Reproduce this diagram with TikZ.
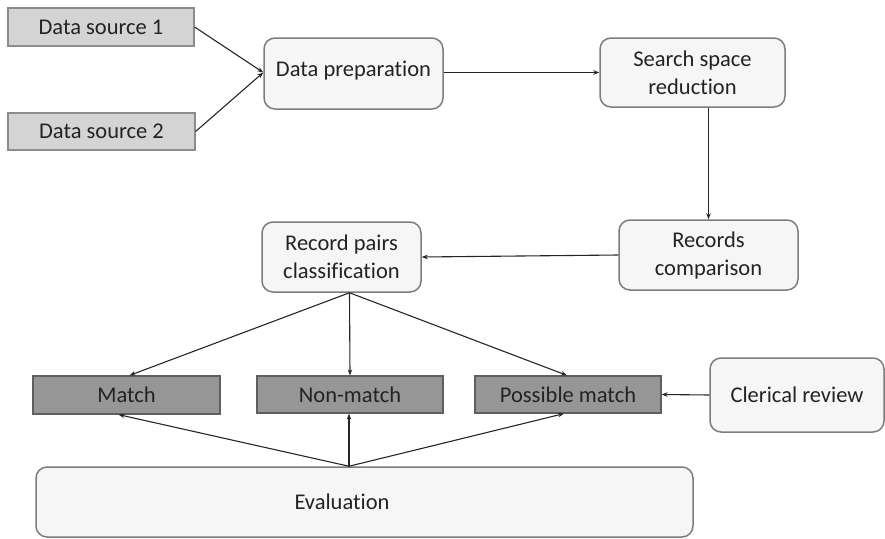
\documentclass[tikz,border=0pt]{standalone}
\usepackage{fontspec}
\setmainfont{Carlito}[Ligatures=NoCommon]
\usetikzlibrary{arrows.meta,calc}
\definecolor{srcfill}{RGB}{212,212,212}
\definecolor{srcdraw}{RGB}{140,140,140}
\definecolor{resfill}{RGB}{150,150,150}
\definecolor{resdraw}{RGB}{95,95,95}
\definecolor{rndfill}{RGB}{246,246,246}
\definecolor{rnddraw}{RGB}{125,125,125}
\definecolor{txt}{RGB}{35,35,35}
\tikzset{
  base/.style={inner sep=0pt, align=center, text=txt, font=\fontsize{22.5}{28}\selectfont},
  srcbox/.style={base, draw=srcdraw, fill=srcfill, line width=1.2pt},
  resbox/.style={base, draw=resdraw, fill=resfill, line width=1.2pt},
  rndbox/.style={base, draw=rnddraw, fill=rndfill, line width=1.5pt, rounded corners=11pt},
  conn/.style={draw=black!85, line width=1.1pt, -{Stealth[length=6pt,width=4.5pt]}},
}
\begin{document}
\begin{tikzpicture}[x=1pt,y=-1pt]
\useasboundingbox (0,0) rectangle (885,538);
% sources
\node[srcbox, minimum width=186pt, minimum height=38pt] (ds1) at (101,27) {Data source 1};
\node[srcbox, minimum width=187pt, minimum height=37pt] (ds2) at (101.5,131.5) {Data source 2};
% process boxes
\node[rndbox, minimum width=179pt, minimum height=71pt] (dp) at (353.5,73.5) {};
\node[base] (dpt) at (353.5,70.5) {Data preparation};
\node[rndbox, minimum width=185pt, minimum height=69pt] (ssr) at (692.5,72.5) {Search space\\reduction};
\node[rndbox, minimum width=179pt, minimum height=70pt] (rc) at (708.5,255) {Records\\comparison};
\node[rndbox, minimum width=159pt, minimum height=70pt] (rpc) at (341.5,257) {Record pairs\\classification};
% results
\node[resbox, minimum width=187pt, minimum height=38pt] (m) at (126.5,395) {Match};
\node[resbox, minimum width=186pt, minimum height=37pt] (nm) at (350,394.5) {Non-match};
\node[resbox, minimum width=186pt, minimum height=37pt] (pm) at (568,394.5) {Possible match};
\node[rndbox, minimum width=174pt, minimum height=74pt] (cr) at (797,395) {Clerical review};
% evaluation
\node[rndbox, minimum width=657pt, minimum height=70pt] (ev) at (364.5,502) {};
\node[base] (evt) at (342,502) {Evaluation};
% connectors
\draw[conn] (ds1.east) -- ($(dp.west)+(0,-1)$);
\draw[conn] (ds2.east) -- ($(dp.west)+(0,-1)$);
\draw[conn] ($(dp.east)+(0,-1)$) -- (ssr.west);
\draw[conn] ($(ssr.south)+(16,0)$) -- (rc.north);
\draw[conn] (rc.west) -- (rpc.east);
\draw[conn] ($(rpc.south)+(8,0)$) -- ($(m.north)+(3,0)$);
\draw[conn] ($(rpc.south)+(8,0)$) -- (nm.north);
\draw[conn] ($(rpc.south)+(8,0)$) -- ($(pm.north)+(-1,0)$);
\draw[conn] ($(ev.north)+(-15.5,0)$) -- ($(m.south)+(-8,0)$);
\draw[conn] ($(ev.north)+(-15.5,0)$) -- ($(nm.south)+(-1,0)$);
\draw[conn] ($(ev.north)+(-15.5,0)$) -- ($(pm.south)+(-4,0)$);
\draw[conn] (cr.west) -- (pm.east);
\end{tikzpicture}
\end{document}
